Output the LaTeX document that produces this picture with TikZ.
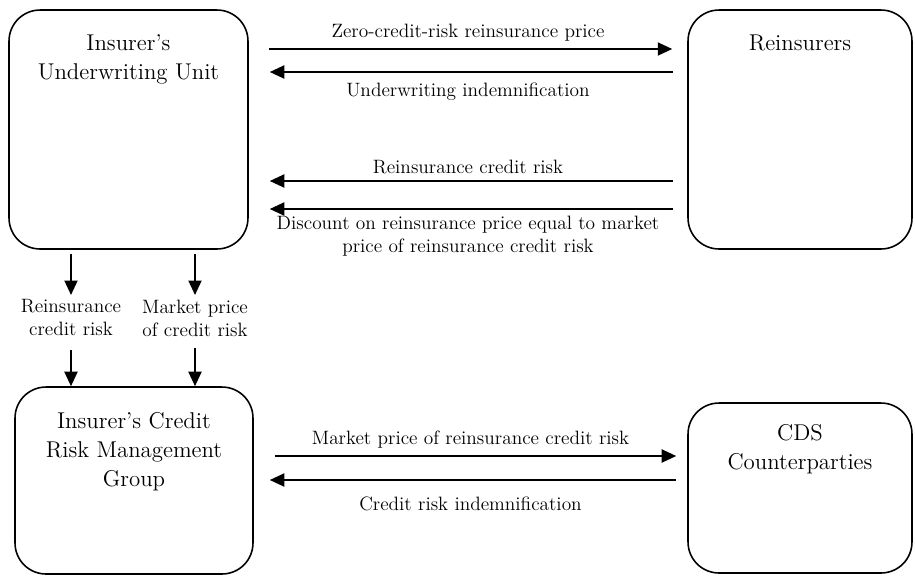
\documentclass[tikz,border=0pt]{standalone}
\usepackage{tikz}
\usetikzlibrary{positioning,arrows.meta}

\begin{document}
\begin{tikzpicture}[x=0.02cm,y=-0.02cm,
  >={Triangle[length=0.29cm,width=0.26cm]},
  box/.style={draw,line width=0.9pt,rounded corners=0.62cm,inner sep=0pt},
  boxtext/.style={align=center,inner sep=0pt,font=\fontsize{13}{16.5}\selectfont},
  lbl/.style={align=center,inner sep=0pt,font=\fontsize{11}{13.1}\selectfont},
  flow/.style={->,line width=1.1pt}]

\useasboundingbox (0,0) rectangle (915,576);

% Boxes
\node[box,minimum width=4.78cm,minimum height=4.78cm] (uw) at (128.5,129.5) {};
\node[box,minimum width=4.48cm,minimum height=4.78cm] (re) at (800,129.5) {};
\node[box,minimum width=4.76cm,minimum height=3.74cm] (crm) at (134,480.5) {};
\node[box,minimum width=4.48cm,minimum height=3.4cm] (cds) at (800,488) {};

% Box texts
\node[boxtext,below=0.5cm of uw.north] (uwtext) {Insurer's\\Underwriting Unit};
\node[boxtext,below=0.5cm of re.north] (retext) {Reinsurers};
\node[boxtext,below=0.52cm of crm.north] (crmtext) {Insurer's Credit\\Risk Management\\Group};
\node[boxtext,below=0.44cm of cds.north] (cdstext) {CDS\\Counterparties};

% Arrows between insurer and reinsurers
\draw[flow,shorten <=0.4cm,shorten >=0.3cm] (uw.east |- 0,49) --
  node[lbl,above=0.14cm] (zcr) {Zero-credit-risk reinsurance price} (re.west |- 0,49);
\draw[flow,shorten <=0.28cm,shorten >=0.42cm] (re.west |- 0,72) --
  node[lbl,below=0.2cm] (ind) {Underwriting indemnification} (uw.east |- 0,72);
\draw[flow,shorten <=0.28cm,shorten >=0.42cm] (re.west |- 0,181) --
  node[lbl,above=0.12cm] (rcr) {Reinsurance credit risk} (uw.east |- 0,181);
\draw[flow,shorten <=0.28cm,shorten >=0.42cm] (re.west |- 0,209) --
  node[lbl,below=0.12cm] (disc) {Discount on reinsurance price equal to market\\price of reinsurance credit risk} (uw.east |- 0,209);

% Arrows between credit risk group and CDS counterparties
\draw[flow,shorten <=0.42cm,shorten >=0.22cm] (crm.east |- 0,456) --
  node[lbl,above=0.14cm] (mp) {Market price of reinsurance credit risk} (cds.west |- 0,456);
\draw[flow,shorten <=0.22cm,shorten >=0.32cm] (cds.west |- 0,480) --
  node[lbl,below=0.32cm] (cri) {Credit risk indemnification} (crm.east |- 0,480);

% Vertical arrows
\node[lbl,anchor=north] (vrcr) at (71,299) {Reinsurance\\credit risk};
\node[lbl,anchor=north] (vmp) at (195,300) {Market price\\of credit risk};

\draw[flow,shorten <=0.08cm,shorten >=0.08cm] (uw.south -| vrcr) -- (vrcr.north);
\draw[flow,shorten <=0.28cm] (vrcr.south) -- (crm.north -| vrcr);
\draw[flow,shorten <=0.08cm,shorten >=0.1cm] (uw.south -| vmp) -- (vmp.north);
\draw[flow,shorten <=0.22cm] (vmp.south) -- (crm.north -| vmp);

\end{tikzpicture}
\end{document}
